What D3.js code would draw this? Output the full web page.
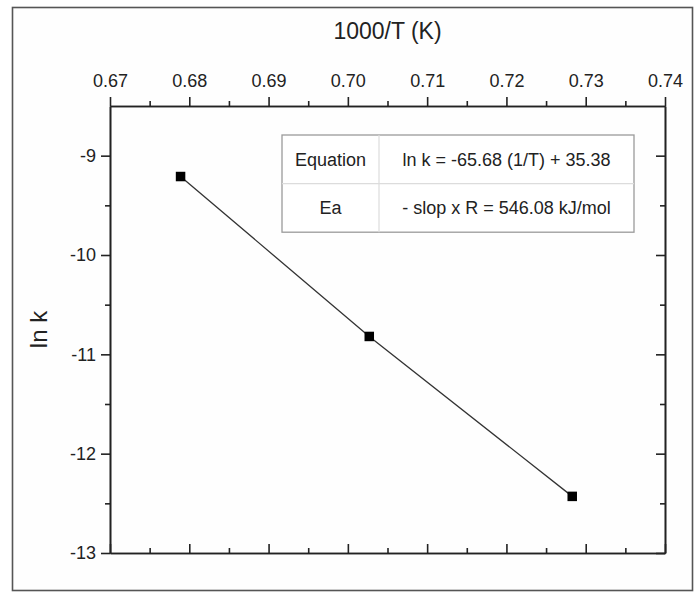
<!DOCTYPE html>
<html>
<head>
<meta charset="utf-8">
<script src="https://cdn.jsdelivr.net/npm/d3@7"></script>
<style>
  html, body { margin: 0; padding: 0; background: #ffffff; }
  svg { display: block; font-family: "Liberation Sans", Arial, Helvetica, sans-serif; }
</style>
</head>
<body>
<svg id="chart" width="694" height="592"></svg>
<script>
// ---- data ----
const invT = [0.6789, 0.7027, 0.7283];          // 1000/T (K)
const lnK = [-9.21, -10.82, -12.43];            // ln k
const xMajorTicks = [0.67, 0.68, 0.69, 0.70, 0.71, 0.72, 0.73, 0.74];
const xTickLabels = ["0.67", "0.68", "0.69", "0.70", "0.71", "0.72", "0.73", "0.74"];
const xMinorTicks = [0.675, 0.685, 0.695, 0.705, 0.715, 0.725, 0.735];
const yMajorTicks = [-9, -10, -11, -12, -13];
const yTickLabels = ["-9", "-10", "-11", "-12", "-13"];
const yMinorTicks = [-9.5, -10.5, -11.5, -12.5];
const xDomain = [0.67, 0.74];
const yDomain = [-13, -8.5];
const tableRows = [
  ["Equation", "ln k = -65.68 (1/T) + 35.38"],
  ["Ea", "- slop x R = 546.08 kJ/mol"]
];
const xTitle = "1000/T (K)";
const yTitle = "ln k";

// ---- layout ----
const svg = d3.select("#chart");
const L = 110, R = 665, T = 106, B = 553;

const x = d3.scaleLinear().domain(xDomain).range([L, R]);
const y = d3.scaleLinear().domain(yDomain).range([B, T]);

// outer frame
svg.append("rect")
  .attr("x", 12.5).attr("y", 7.5).attr("width", 680).attr("height", 583)
  .attr("fill", "#fefefe").attr("stroke", "#555").attr("stroke-width", 1.6);

const axisColor = "#222";
function styleAxis(g, showText) {
  g.selectAll("path").attr("stroke", axisColor).attr("stroke-width", 1.6);
  g.selectAll("line").attr("stroke", axisColor).attr("stroke-width", 1.6);
  g.selectAll("text").attr("fill", "#222").style("font-size", "18px")
    .style("font-family", "'Liberation Sans', Arial, sans-serif");
  if (!showText) g.selectAll("text").remove();
}

const xLab = d => xTickLabels[xMajorTicks.indexOf(d)];
const yLab = d => yTickLabels[yMajorTicks.indexOf(d)];

// top axis (labels)
const gTop = svg.append("g").attr("transform", `translate(0,${T})`)
  .call(d3.axisTop(x).tickValues(xMajorTicks).tickFormat(xLab).tickSize(9).tickSizeOuter(0).tickPadding(10));
styleAxis(gTop, true);
const gTopMinor = svg.append("g").attr("transform", `translate(0,${T})`)
  .call(d3.axisTop(x).tickValues(xMinorTicks).tickSize(5).tickSizeOuter(0).tickFormat(""));
styleAxis(gTopMinor, false);

// bottom axis (inward ticks)
const gBot = svg.append("g").attr("transform", `translate(0,${B})`)
  .call(d3.axisBottom(x).tickValues(xMajorTicks).tickSize(-9).tickSizeOuter(0).tickFormat(""));
styleAxis(gBot, false);
const gBotMinor = svg.append("g").attr("transform", `translate(0,${B})`)
  .call(d3.axisBottom(x).tickValues(xMinorTicks).tickSize(-5).tickSizeOuter(0).tickFormat(""));
styleAxis(gBotMinor, false);

// left axis
const gLeft = svg.append("g").attr("transform", `translate(${L},0)`)
  .call(d3.axisLeft(y).tickValues(yMajorTicks).tickFormat(yLab).tickSize(9).tickSizeOuter(0).tickPadding(5));
styleAxis(gLeft, true);
const gLeftMinor = svg.append("g").attr("transform", `translate(${L},0)`)
  .call(d3.axisLeft(y).tickValues(yMinorTicks).tickSize(5).tickSizeOuter(0).tickFormat(""));
styleAxis(gLeftMinor, false);

// right axis (inward ticks)
const gRight = svg.append("g").attr("transform", `translate(${R},0)`)
  .call(d3.axisRight(y).tickValues(yMajorTicks).tickSize(-9).tickSizeOuter(0).tickFormat(""));
styleAxis(gRight, false);
const gRightMinor = svg.append("g").attr("transform", `translate(${R},0)`)
  .call(d3.axisRight(y).tickValues(yMinorTicks).tickSize(-5).tickSizeOuter(0).tickFormat(""));
styleAxis(gRightMinor, false);

// axis titles
svg.append("text")
  .attr("x", (L + R) / 2).attr("y", 39)
  .attr("text-anchor", "middle")
  .style("font-size", "23px").attr("fill", "#222")
  .text(xTitle);
svg.append("text")
  .attr("transform", `translate(47,${(T + B) / 2}) rotate(-90)`)
  .attr("text-anchor", "middle")
  .style("font-size", "24px").attr("fill", "#222")
  .text(yTitle);

// data line and markers
const pts = invT.map((v, i) => [v, lnK[i]]);
svg.append("path")
  .datum(pts)
  .attr("d", d3.line().x(d => x(d[0])).y(d => y(d[1])))
  .attr("fill", "none").attr("stroke", "#333").attr("stroke-width", 1.3);

const ms = 9.5;
svg.selectAll("rect.pt").data(pts).enter().append("rect")
  .attr("class", "pt")
  .attr("x", d => x(d[0]) - ms / 2).attr("y", d => y(d[1]) - ms / 2)
  .attr("width", ms).attr("height", ms)
  .attr("fill", "#000");

// table
const tX = 282, tY = 135, tW = 352, rowH = 48.6, col1W = 97;
const tbl = svg.append("g");
tbl.append("rect").attr("x", tX).attr("y", tY).attr("width", tW).attr("height", rowH * tableRows.length)
  .attr("fill", "#fff").attr("stroke", "#9a9a9a").attr("stroke-width", 1.3);
tbl.append("line").attr("x1", tX + col1W).attr("x2", tX + col1W)
  .attr("y1", tY).attr("y2", tY + rowH * tableRows.length)
  .attr("stroke", "#dcdcdc").attr("stroke-width", 1.2);
tbl.append("line").attr("x1", tX).attr("x2", tX + tW)
  .attr("y1", tY + rowH).attr("y2", tY + rowH)
  .attr("stroke", "#dcdcdc").attr("stroke-width", 1.2);
tableRows.forEach((row, i) => {
  const cy = tY + rowH * i + rowH / 2 + 6.5;
  tbl.append("text").attr("x", tX + col1W / 2).attr("y", cy).attr("text-anchor", "middle")
    .style("font-size", "18px").attr("fill", "#222").text(row[0]);
  tbl.append("text").attr("x", tX + col1W + (tW - col1W) / 2).attr("y", cy).attr("text-anchor", "middle")
    .style("font-size", "18px").attr("fill", "#222").text(row[1]);
});
</script>
</body>
</html>
